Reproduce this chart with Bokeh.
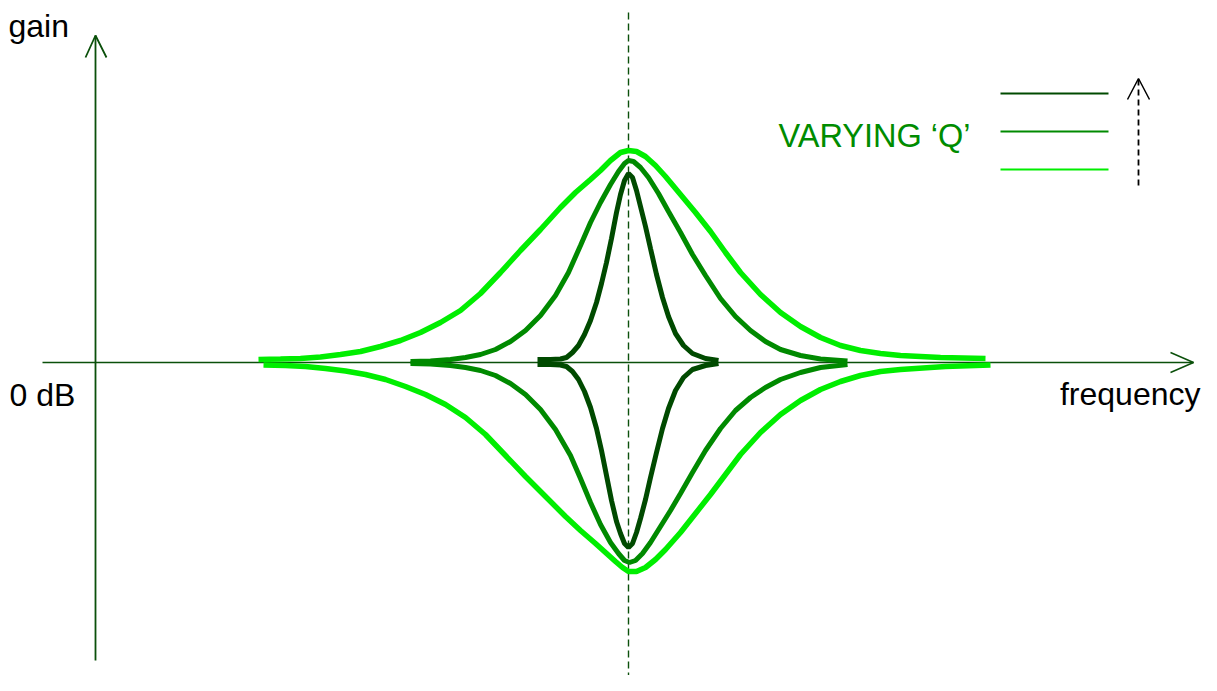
from bokeh.plotting import figure
from bokeh.models import Range1d
from bokeh.embed import file_html
from bokeh.resources import INLINE
from bokeh.core.properties import value

# ---- data (frequency position, gain) ----
wide_up_f = [163, 185, 205, 225, 245, 265, 285, 305, 325, 345, 365, 385, 405, 425, 445, 465, 480, 495, 505, 515,
             525, 533, 541, 550, 560, 570, 585, 600, 615, 630, 645, 665, 685, 705, 725, 745, 765, 785, 805, 845, 890]
wide_up_g = [3, 3.5, 4, 5.5, 8, 11, 16, 22, 30, 40, 52, 69, 90, 112, 133, 155, 170, 183, 192, 202,
             210, 212, 211, 206, 197, 186, 168, 150, 131, 110, 90, 68, 50, 36, 25, 17, 12, 9, 7, 5, 4]
wide_dn_f = [168, 190, 210, 230, 250, 270, 290, 310, 330, 350, 370, 390, 410, 430, 450, 470, 485, 500, 510, 520,
             527, 533, 541, 550, 560, 570, 585, 600, 615, 630, 645, 665, 685, 705, 725, 745, 765, 785, 805, 850, 895]
wide_dn_g = [-2.5, -3, -4, -6, -8.5, -12, -17, -24, -32, -42, -55, -72, -93, -114, -134, -154, -168, -181, -190, -199,
             -205, -209, -209, -205, -197, -187, -170, -151, -132, -112, -92, -70, -52, -38, -27, -19, -13, -9, -7, -4, -2.5]

mid_up_f = [315, 335, 355, 370, 385, 400, 415, 430, 445, 460, 473, 485, 495, 505, 515, 523, 529, 533, 538, 545,
            553, 563, 573, 585, 597, 610, 625, 640, 655, 670, 685, 705, 725, 752]
mid_up_g = [1, 1.5, 3, 5, 8, 13, 21, 32, 47, 67, 90, 117, 140, 160, 178, 191, 199, 202, 201, 195,
            185, 169, 151, 130, 108, 87, 64, 46, 32, 21, 13, 7, 3.5, 1.5]
mid_dn_f = [315, 335, 355, 370, 385, 400, 415, 430, 445, 460, 475, 485, 495, 505, 515, 523, 529, 534, 540, 547,
            555, 565, 575, 585, 597, 610, 625, 640, 655, 670, 685, 705, 725, 752]
mid_dn_g = [-1, -1.5, -3, -5, -8, -13, -21, -32, -47, -67, -93, -116, -140, -162, -180, -191, -198, -200, -198, -191,
            -180, -164, -148, -131, -110, -88, -66, -48, -35, -25, -17, -10, -5, -2]

narrow_f = [442, 455, 465, 471, 477, 483, 489, 495, 501, 506, 511, 516, 521, 525, 529, 533, 537, 541, 545, 550,
            555, 561, 567, 573, 580, 588, 597, 610, 623]
narrow_up_g = [3, 3, 3.5, 5, 10, 17, 28, 42, 60, 79, 100, 124, 150, 168, 182, 189, 185, 172, 156, 136,
               114, 88, 65, 46, 29, 17, 9, 4, 2]
narrow_dn_g = [-2, -2, -2.5, -4, -9, -17, -29, -45, -66, -88, -113, -138, -159, -171, -181, -185, -181, -170, -156, -137,
               -115, -90, -66, -46, -28, -15, -7, -3, -1]

center_freq = 533
axis_labels = ["gain", "0 dB", "frequency"]
legend_label = "VARYING \u2018Q\u2019"

c_axis = "#0b500b"
c_wide = "#00ee00"
c_mid = "#008a00"
c_narrow = "#004a00"
font = value("Liberation Sans")

p = figure(width=1201, height=675, output_backend="svg", toolbar_location=None,
           x_range=Range1d(-95, 1106), y_range=Range1d(-313, 362),
           x_axis_location=None, y_axis_location=None, min_border=0,
           background_fill_color="white", border_fill_color="white")
p.grid.visible = False
p.outline_line_color = None

# axes
p.line([0, 0], [-298, 327], line_color=c_axis, line_width=1.8)
p.line([-10, 0, 11], [305, 327, 305], line_color=c_axis, line_width=1.8)
p.line([-53, 1098], [0, 0], line_color=c_axis, line_width=1.5)
p.line([1075, 1098, 1075], [10, 0, -10], line_color=c_axis, line_width=1.5)

# centre frequency
p.line([center_freq, center_freq], [350, -313], line_color=c_axis, line_width=1.4, line_dash="7 4")

# curves
p.line(wide_up_f, wide_up_g, line_color=c_wide, line_width=5.5)
p.line(wide_dn_f, wide_dn_g, line_color=c_wide, line_width=5.5)
p.line(mid_up_f, mid_up_g, line_color=c_mid, line_width=5)
p.line(mid_dn_f, mid_dn_g, line_color=c_mid, line_width=5)
p.line(narrow_f, narrow_up_g, line_color=c_narrow, line_width=5)
p.line(narrow_f, narrow_dn_g, line_color=c_narrow, line_width=5)

# legend
for g, c in zip([269, 231, 193], [c_narrow, c_mid, c_wide]):
    p.line([905, 1013], [g, g], line_color=c, line_width=2)
p.line([1043, 1043], [177, 283], line_color="black", line_width=1.8, line_dash="6 4")
p.line([1032, 1043, 1054], [263, 284, 263], line_color="black", line_width=1.5)

p.text(x=[683], y=[227], text=[legend_label], text_font=font, text_font_size="32.5px",
       text_color="#008c00", text_baseline="alphabetic", text_align="left")
p.text(x=[-87], y=[337], text=[axis_labels[0]], text_font=font, text_font_size="32px",
       text_color="black", text_baseline="alphabetic", text_align="left")
p.text(x=[-86], y=[-32], text=[axis_labels[1]], text_font=font, text_font_size="32px",
       text_color="black", text_baseline="alphabetic", text_align="left")
p.text(x=[1105], y=[-31], text=[axis_labels[2]], text_font=font, text_font_size="32px",
       text_color="black", text_baseline="alphabetic", text_align="right")

open("out.html", "w").write(file_html(p, INLINE))
